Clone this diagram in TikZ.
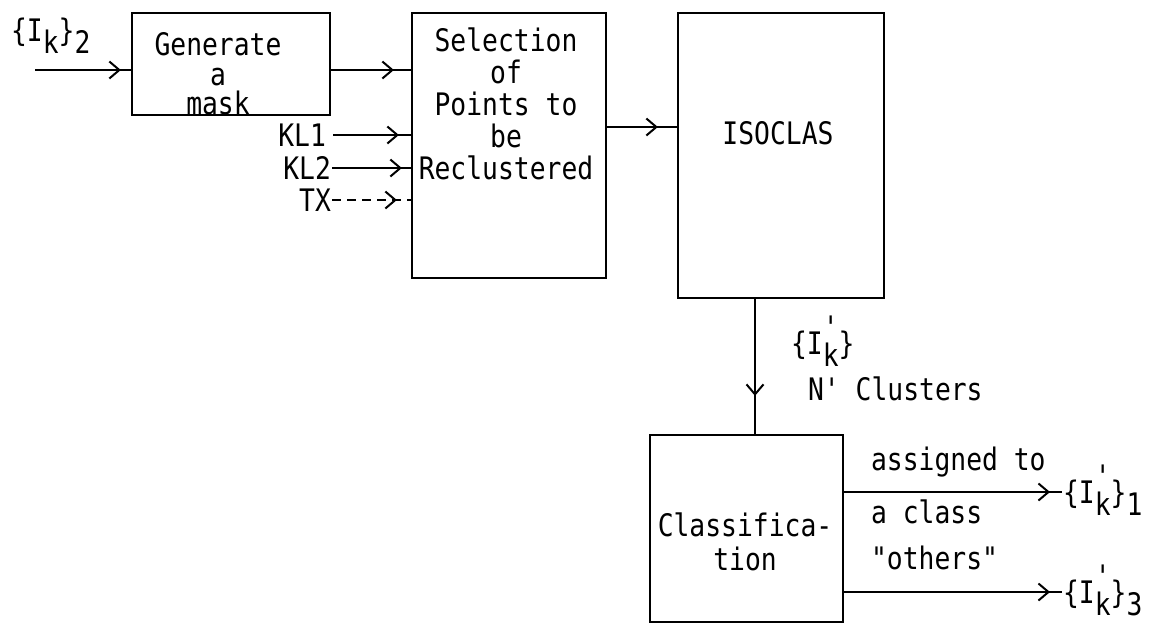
\documentclass[tikz,border=0pt]{standalone}
\usepackage{fontspec}
\newfontfamily\tw{DejaVu Sans Mono}[FakeStretch=0.85]
\usetikzlibrary{arrows.meta,decorations.markings}
\newcommand\lowk[1]{\raisebox{-0.4em}{#1}}
\newcommand\primek{\rlap{\raisebox{0.5em}{'}}\lowk{k}}
\begin{document}
\begin{tikzpicture}[x=1pt,y=-1pt,line width=2.2pt,
  font=\tw\fontsize{31}{31}\selectfont,
  box/.style={draw,rectangle,inner sep=0pt},
  txt/.style={inner sep=0pt,align=center},
  lbl/.style={inner sep=0pt},
  tipat/.style={postaction={decorate},decoration={markings,
     mark=at position #1 with {\arrow{Straight Barb[length=10pt,width=17pt,line width=2pt]}}}}]
\useasboundingbox (0,0) rectangle (1151,625);
% boxes
\node[box,minimum width=198pt,minimum height=102pt] (gen) at (231,64) {};
\node[box,minimum width=194pt,minimum height=265pt] (sel) at (509,145.5) {};
\node[box,minimum width=206pt,minimum height=285pt] (iso) at (781,155.5) {};
\node[box,minimum width=193pt,minimum height=187pt] (cls) at (746.5,528.5) {};
% box texts
\node[txt,font=\tw\fontsize{31}{29.5}\selectfont] (gent) at (218,74) {Generate\\a\\mask};
\node[txt,font=\tw\fontsize{31}{32}\selectfont] (selt) at (506,104) {Selection\\of\\Points to\\be\\Reclustered};
\node[txt] (isot) at (778,133) {ISOCLAS};
\node[txt,font=\tw\fontsize{31}{34}\selectfont] (clst) at (745,542) {Classifica-\\tion};
% input
\coordinate (in) at (35,70);
\node[lbl,anchor=base west] (ik2) at (10,41) {\{I\lowk{k}\}\lowk{2}};
\draw[tipat=-10pt] (in) -- (in -| gen.west);
\draw[tipat=-17pt] (in -| gen.east) -- (in -| sel.west);
% KL inputs
\node[lbl,anchor=east] (kl1) at (327,135) {KL1};
\node[lbl,anchor=east] (kl2) at (332,168) {KL2};
\node[lbl,anchor=east] (tx) at (332,200) {TX};
\draw[tipat=-12pt] ([xshift=6pt]kl1.east) -- (kl1 -| sel.west);
\draw[tipat=-9pt] (kl2.east) -- (kl2 -| sel.west);
\draw[tipat=-14pt,dash pattern=on 9pt off 6pt] (tx.east) -- (tx -| sel.west);
% sel -> iso
\coordinate (mid) at (0,127);
\draw[tipat=-19pt] (mid -| sel.east) -- (mid -| iso.west);
% iso -> cls
\coordinate (vx) at (755,0);
\draw[tipat=-38pt] (vx |- iso.south) -- (vx |- cls.north);
\node[lbl,anchor=base west] (ipk) at (790,354) {\{I\primek\}};
\node[lbl,anchor=west] (ncl) at (807,389) {N' Clusters};
% outputs
\node[lbl,anchor=base west] (o1) at (1062,503) {\{I\primek\}\lowk{1}};
\node[lbl,anchor=base west] (o3) at (1062,603) {\{I\primek\}\lowk{3}};
\coordinate (y1) at (0,492);
\coordinate (y3) at (0,592);
\draw[tipat=-12pt] (y1 -| cls.east) -- (y1 -| o1.west);
\draw[tipat=-12pt] (y3 -| cls.east) -- (y3 -| o3.west);
\node[lbl,anchor=west] (as1) at (870,462) {assigned to};
\node[lbl,anchor=west] (as2) at (870,512) {a class};
\node[lbl,anchor=west] (oth) at (870,558) {"others"};
\end{tikzpicture}
\end{document}
